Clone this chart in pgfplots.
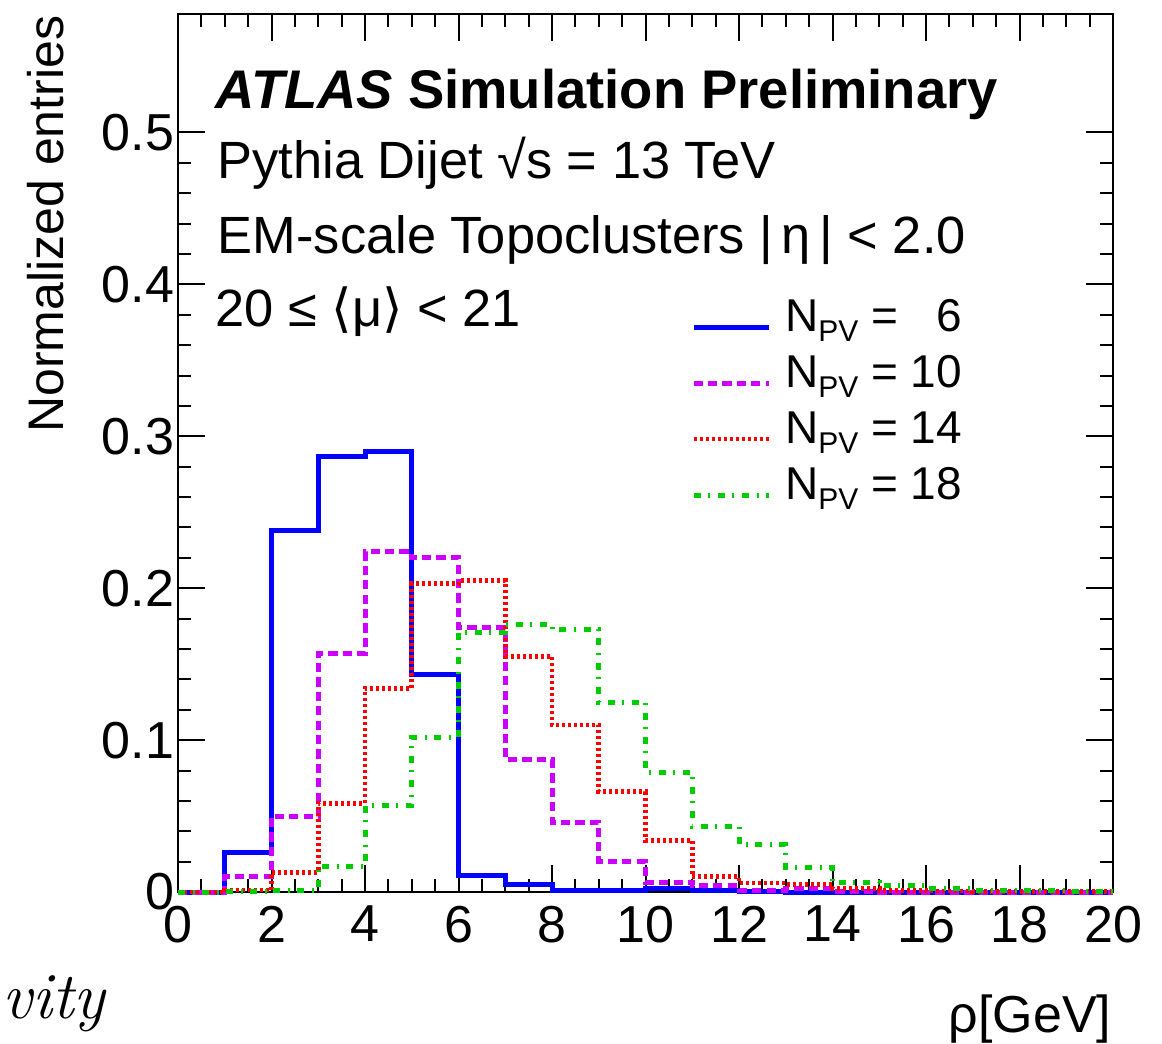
\documentclass[border=0pt]{standalone}
\usepackage{fontspec}
\setmainfont{Liberation Sans}
\newfontfamily\dejavu{DejaVu Sans}
\usepackage{pgfplots}
\usepackage{pgfplotstable}
\pgfplotsset{compat=1.18}
\definecolor{hblue}{RGB}{0,0,255}
\definecolor{hmag}{RGB}{204,0,255}
\definecolor{hred}{RGB}{255,0,0}
\definecolor{hgreen}{RGB}{0,204,0}

\pgfplotstableread{
x n6 n10 n14 n18
0 0 0 0 0
1 0.026 0.010 0.0013 0.0003
2 0.238 0.050 0.013 0.001
3 0.287 0.157 0.0585 0.0167
4 0.290 0.224 0.134 0.057
5 0.143 0.220 0.203 0.102
6 0.0106 0.174 0.205 0.171
7 0.005 0.087 0.155 0.176
8 0.0013 0.046 0.110 0.173
9 0.001 0.020 0.066 0.125
10 0.002 0.0064 0.034 0.079
11 0.0007 0.004 0.010 0.043
12 0.0003 0.0013 0.006 0.031
13 0 0.002 0.005 0.016
14 0 0.0005 0.0025 0.0064
15 0 0 0.001 0.004
16 0 0 0.0007 0.002
17 0 0 0.0005 0.0013
18 0 0 0.0003 0.001
19 0 0 0.0002 0.0005
20 0 0 0.0002 0.0005
}\histdata

\begin{document}
\begin{tikzpicture}
\begin{axis}[
  scale only axis, width=233.75pt, height=219.5pt,
  xmin=0, xmax=20, ymin=0, ymax=0.578,
  clip=false,
  axis line style={line width=0.5pt},
  every tick/.style={black, line width=0.5pt},
  tick align=inside,
  major tick length=6.75pt, minor tick length=3.25pt,
  xtick={0,2,4,6,8,10,12,14,16,18,20},
  xticklabels={0,2,4,6,8,10,12,14,16,18,20},
  minor x tick num=3,
  ytick={0,0.1,0.2,0.3,0.4,0.5},
  yticklabels={0,0.1,0.2,0.3,0.4,0.5},
  minor y tick num=4,
  /pgf/number format/assume math mode=true,
  tick label style={font=\fontsize{13}{13}\selectfont},
  xticklabel style={inner sep=0pt, anchor=north, yshift=-3.25pt},
  yticklabel style={inner sep=0pt, anchor=east, xshift=-0.75pt},
  legend image code/.code={\draw[#1] (0pt,0pt) -- (18.75pt,0pt);},
  legend cell align=left,
  legend style={draw=none, fill=none, inner sep=0pt, outer sep=0pt,
    at={(rel axis cs:0.5487,0.6754)}, anchor=north west,
    font=\fontsize{11.5}{12}\selectfont, row sep=0pt,
    nodes={inner sep=0pt, text height=8pt, text depth=6pt},
    /tikz/every odd column/.append style={column sep=3.5pt}},
]
\addplot[const plot mark left, hblue, line width=1.25pt] table[x=x,y=n6]{\histdata};
\addlegendentry{N\raisebox{-2.5pt}{\fontsize{7.5}{8}\selectfont PV} = \phantom{1}6}
\addplot[const plot mark left, hmag, line width=1.25pt, dash pattern=on 2.3pt off 1.3pt] table[x=x,y=n10]{\histdata};
\addlegendentry{N\raisebox{-2.5pt}{\fontsize{7.5}{8}\selectfont PV} = 10}
\addplot[const plot mark left, hred, line width=1.2pt, dash pattern=on 0.75pt off 0.75pt] table[x=x,y=n14]{\histdata};
\addlegendentry{N\raisebox{-2.5pt}{\fontsize{7.5}{8}\selectfont PV} = 14}
\addplot[const plot mark left, hgreen, line width=1.25pt, dash pattern=on 1.75pt off 1.9pt on 0.5pt off 1.9pt] table[x=x,y=n18]{\histdata};
\addlegendentry{N\raisebox{-2.5pt}{\fontsize{7.5}{8}\selectfont PV} = 18}
\coordinate (O) at (rel axis cs:0,0);
\end{axis}
\begin{scope}[shift={(O)}, x=0.25pt, y=-0.25pt, shift={(-178,-892)}]
\node[anchor=base west, inner sep=0pt, font=\fontsize{13.6}{14}\selectfont\bfseries] at (215,108) {\textit{ATLAS} Simulation Preliminary};
\node[anchor=base west, inner sep=0pt, font=\fontsize{13.1}{14}\selectfont] at (217,178) {Pythia Dijet √s = 13 TeV};
\node[anchor=base west, inner sep=0pt, font=\fontsize{13.1}{14}\selectfont] at (217,253) {EM-scale Topoclusters |\,η\,| < 2.0};
\node[anchor=base west, inner sep=0pt, font=\fontsize{13.1}{14}\selectfont] at (215,326) {20 ≤ {\dejavu ⟨}μ{\dejavu ⟩} < 21};
\node[rotate=90, anchor=base east, inner sep=0pt, font=\fontsize{12.5}{13}\selectfont] at (63,15) {Normalized entries};
\node[anchor=base east, inner sep=0pt, font=\fontsize{13}{13}\selectfont] at (1112,1032) {ρ[GeV]};
\node[anchor=base west, inner sep=0pt, font=\fontsize{16.5}{16}\fontfamily{lmr}\fontshape{it}\selectfont] at (2,1018) {vity};
\pgfresetboundingbox
\path[use as bounding box] (0,0) rectangle (1162,1043);
\end{scope}
\end{tikzpicture}
\end{document}
